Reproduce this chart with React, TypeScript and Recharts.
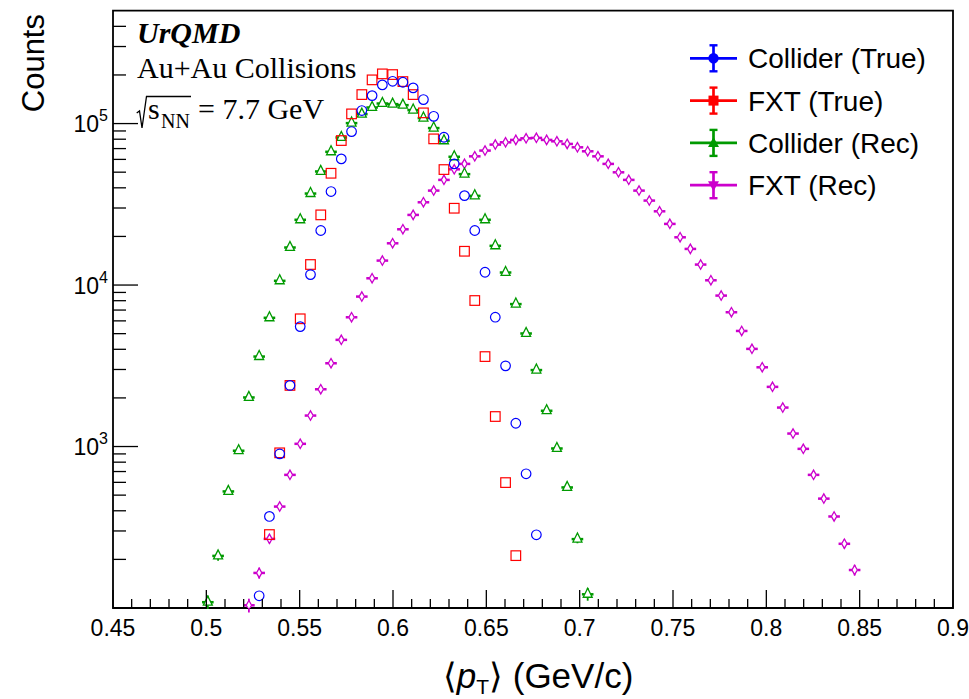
import React from "react";
import { ScatterChart, Scatter, XAxis, YAxis, ReferenceArea, ErrorBar, Legend } from "recharts";

// <pT> bin centres (GeV/c), shared by all four histograms
const binCenters = [
  0.5008, 0.5063, 0.5118, 0.5173, 0.5228, 0.5283, 0.5338, 0.5393, 0.5448, 0.5503,
  0.5558, 0.5613, 0.5668, 0.5723, 0.5778, 0.5833, 0.5888, 0.5943, 0.5998, 0.6053,
  0.6108, 0.6163, 0.6218, 0.6273, 0.6328, 0.6383, 0.6438, 0.6493, 0.6548, 0.6603,
  0.6658, 0.6713, 0.6768, 0.6823, 0.6878, 0.6933, 0.6988, 0.7043, 0.7098, 0.7153,
  0.7208, 0.7263, 0.7318, 0.7373, 0.7428, 0.7483, 0.7538, 0.7593, 0.7648, 0.7703,
  0.7758, 0.7813, 0.7868, 0.7923, 0.7978, 0.8033, 0.8088, 0.8143, 0.8198, 0.8253,
  0.8308, 0.8363, 0.8418, 0.8473,
];

// counts per series, starting at the given bin index
const colliderTrueFirstBin = 5;
const colliderTrueCounts = [
  119, 369, 901, 2390, 5530,
  11610, 21760, 37930, 60430, 89230, 120400, 149000, 173600, 182700, 180200,
  166400, 140800, 110900, 82300, 56300, 35800, 21760, 12000, 6320, 3160,
  1394, 678, 284,
];

const fxtTrueFirstBin = 6;
const fxtTrueCounts = [
  285, 914, 2390, 6180,
  13400, 27200, 49230, 78500, 114800, 151200, 186500, 203100, 201100, 182000,
  151200, 116500, 80400, 51900, 29900, 16190, 8020, 3606, 1534, 598,
  211,
];

const colliderRecFirstBin = 0;
const colliderRecCounts = [
  109, 211, 529, 945, 2020, 3620, 6290, 10660, 17140, 25450,
  37000, 50700, 67100, 82300, 101000, 114800, 126200, 133600, 132400, 130500,
  121600, 108500, 94100, 78500, 62500, 48800, 35800, 25450, 17560, 12000,
  7650, 5030, 2985, 1671, 976, 560, 268, 122,
];

const fxtRecFirstBin = 4;
const fxtRecCounts = [
  104, 165, 268, 425, 668, 1040,
  1556, 2264, 3280, 4580, 6320, 8490, 11020, 14180, 18150, 22160,
  27200, 32570, 38470, 44820, 52120, 56300, 62720, 68070, 74130, 76600,
  79250, 81100, 81560, 79250, 77700, 74850, 71330, 67400, 62720, 56300,
  49940, 44820, 38470, 33370, 28640, 23930, 19770, 16750, 13400, 10710,
  8610, 6790, 5200, 4027, 3097, 2343, 1744, 1204, 968, 668,
  476, 369, 250, 172,
];

const xMajorTicks = [0.45, 0.5, 0.55, 0.6, 0.65, 0.7, 0.75, 0.8, 0.85, 0.9];
const xMinorTicks = xMajorTicks.slice(0, -1).flatMap((m) => [1, 2, 3, 4].map((i) => +(m + i * 0.01).toFixed(2)));
const yMajorTicks = [1000, 10000, 100000];
const yMinorTicks = [
  200, 300, 400, 500, 600, 700, 800, 900,
  2000, 3000, 4000, 5000, 6000, 7000, 8000, 9000,
  20000, 30000, 40000, 50000, 60000, 70000, 80000, 90000,
  200000, 300000, 400000,
];

const BLUE = "#0000ff";
const RED = "#ff0000";
const GREEN = "#009a00";
const MAGENTA = "#cc00cc";

const legendItems = [
  { name: "Collider (True)", color: BLUE, marker: "circle" },
  { name: "FXT (True)", color: RED, marker: "square" },
  { name: "Collider (Rec)", color: GREEN, marker: "triUp" },
  { name: "FXT (Rec)", color: MAGENTA, marker: "triDown" },
];

// plot frame (px)
const PL = 113;
const PB = 608;
const SANS = "'Liberation Sans', Arial, Helvetica, sans-serif";
const SERIF = "'Liberation Serif', 'Times New Roman', serif";

const toPoints = (first: number, counts: number[]) =>
  counts.map((c, i) => ({ x: binCenters[first + i], y: c, err: Math.sqrt(c) }));

const colliderTrue = toPoints(colliderTrueFirstBin, colliderTrueCounts);
const fxtTrue = toPoints(fxtTrueFirstBin, fxtTrueCounts);
const colliderRec = toPoints(colliderRecFirstBin, colliderRecCounts);
const fxtRec = toPoints(fxtRecFirstBin, fxtRecCounts);

const OpenCircle = (p: any) => (
  <circle cx={p.cx} cy={p.cy} r={4.8} fill="none" stroke={BLUE} strokeWidth={1.2} />
);
const OpenSquare = (p: any) => (
  <rect x={p.cx - 4.8} y={p.cy - 4.8} width={9.6} height={9.6} fill="none" stroke={RED} strokeWidth={1.2} />
);
const OpenTriangle = (p: any) => {
  const { cx, cy } = p;
  return (
    <g>
      <rect x={cx - 5.8} y={cy - 1} width={3} height={2.5} fill={GREEN} />
      <rect x={cx + 2.8} y={cy - 1} width={3} height={2.5} fill={GREEN} />
      <polygon
        points={`${cx},${cy - 5.8} ${cx - 4.5},${cy + 3.2} ${cx + 4.5},${cy + 3.2}`}
        fill="#fff"
        stroke={GREEN}
        strokeWidth={1.3}
      />
    </g>
  );
};
const OpenDiamond = (p: any) => {
  const { cx, cy } = p;
  return (
    <g>
      <rect x={cx - 5.8} y={cy - 1.2} width={3.1} height={2.5} fill={MAGENTA} />
      <rect x={cx + 2.7} y={cy - 1.2} width={3.1} height={2.5} fill={MAGENTA} />
      <polygon
        points={`${cx},${cy - 4.7} ${cx + 2.7},${cy} ${cx},${cy + 4.7} ${cx - 2.7},${cy}`}
        fill="#fff"
        stroke={MAGENTA}
        strokeWidth={1.3}
      />
    </g>
  );
};

function XTick(props: any) {
  const { x, payload } = props;
  const major = xMajorTicks.includes(payload.value);
  return (
    <g>
      <line x1={x} x2={x} y1={PB} y2={PB - (major ? 18 : 9)} stroke="#000" strokeWidth={1.3} />
      {major && (
        <text x={x} y={636} textAnchor="middle" fontFamily={SANS} fontSize={23} fill="#000">
          {String(payload.value)}
        </text>
      )}
    </g>
  );
}

function YTick(props: any) {
  const { y, payload } = props;
  const major = yMajorTicks.includes(payload.value);
  return (
    <g>
      <line x1={PL} x2={PL + (major ? 25 : 13)} y1={y} y2={y} stroke="#000" strokeWidth={1.3} />
      {major && (
        <text x={108} y={y + 8.5} textAnchor="end" fontFamily={SANS} fontSize={23} fill="#000">
          10
          <tspan dy={-11} fontSize={16}>
            {Math.round(Math.log10(payload.value))}
          </tspan>
        </text>
      )}
    </g>
  );
}

function LegendBox() {
  return (
    <svg width={280} height={175} style={{ display: "block", overflow: "visible" }}>
      {legendItems.map((s, i) => {
        const cy = 24.3 + i * 42.3;
        const cx = 33.5;
        let marker;
        if (s.marker === "circle") marker = <circle cx={cx} cy={cy} r={5.2} fill={s.color} />;
        else if (s.marker === "square") marker = <rect x={cx - 5} y={cy - 5} width={10} height={10} fill={s.color} />;
        else if (s.marker === "triUp")
          marker = <polygon points={`${cx},${cy - 6} ${cx - 5.5},${cy + 4} ${cx + 5.5},${cy + 4}`} fill={s.color} />;
        else marker = <polygon points={`${cx},${cy + 6} ${cx - 5.5},${cy - 4} ${cx + 5.5},${cy - 4}`} fill={s.color} />;
        return (
          <g key={s.name}>
            <line x1={10} x2={57} y1={cy} y2={cy} stroke={s.color} strokeWidth={2.7} />
            <line x1={cx} x2={cx} y1={cy - 13} y2={cy + 13} stroke={s.color} strokeWidth={2.7} />
            <line x1={cx - 4} x2={cx + 4} y1={cy - 13} y2={cy - 13} stroke={s.color} strokeWidth={2.4} />
            <line x1={cx - 4} x2={cx + 4} y1={cy + 13} y2={cy + 13} stroke={s.color} strokeWidth={2.4} />
            {marker}
            <text x={68} y={cy + 10} fontFamily={SANS} fontSize={28} fill="#000">
              {s.name}
            </text>
          </g>
        );
      })}
    </svg>
  );
}

export default function App() {
  return (
    <div style={{ position: "absolute", left: 0, top: 0, width: 969, height: 699, background: "#fff" }}>
      <ScatterChart width={969} height={699} margin={{ top: 10.7, right: 16, bottom: 0, left: 0 }}>
        <XAxis
          type="number"
          dataKey="x"
          domain={[0.45, 0.9]}
          ticks={[...xMajorTicks, ...xMinorTicks]}
          interval={0}
          tick={<XTick />}
          tickLine={false}
          axisLine={false}
          height={91}
          allowDataOverflow
        />
        <YAxis
          type="number"
          dataKey="y"
          scale="log"
          domain={[100, 500000]}
          ticks={[...yMajorTicks, ...yMinorTicks]}
          interval={0}
          tick={<YTick />}
          tickLine={false}
          axisLine={false}
          width={113}
          allowDataOverflow
        />
        <ReferenceArea
          x1={0.45}
          x2={0.9}
          y1={100}
          y2={500000}
          fill="none"
          fillOpacity={0}
          stroke="#000"
          strokeWidth={1.8}
          ifOverflow="visible"
        />
        <Scatter name="FXT (Rec)" data={fxtRec} shape={OpenDiamond} isAnimationActive={false}>
          <ErrorBar dataKey="err" direction="y" width={0} stroke={MAGENTA} strokeWidth={1.8} />
        </Scatter>
        <Scatter name="Collider (Rec)" data={colliderRec} shape={OpenTriangle} isAnimationActive={false}>
          <ErrorBar dataKey="err" direction="y" width={0} stroke={GREEN} strokeWidth={1.8} />
        </Scatter>
        <Scatter name="FXT (True)" data={fxtTrue} shape={OpenSquare} isAnimationActive={false} />
        <Scatter name="Collider (True)" data={colliderTrue} shape={OpenCircle} isAnimationActive={false} />
        <Legend
          layout="vertical"
          align="center"
          verticalAlign="middle"
          wrapperStyle={{ left: 680, top: 34, width: 280 }}
          content={() => <LegendBox />}
        />
      </ScatterChart>
      <svg
        width={969}
        height={699}
        style={{ position: "absolute", left: 0, top: 0, pointerEvents: "none" }}
      >
        <text x={137} y={43} fontFamily={SERIF} fontSize={30} fontWeight="bold" fontStyle="italic" fill="#000">
          UrQMD
        </text>
        <text x={137} y={78} fontFamily={SERIF} fontSize={30} fill="#000">
          Au+Au Collisions
        </text>
        <path d="M136.7,113 L139.5,111 L142,128 L146.5,96.5 L191,96.5" fill="none" stroke="#000" strokeWidth={1.3} />
        <text x={148} y={119} fontFamily={SERIF} fontSize={30} fill="#000">
          s
        </text>
        <text x={161} y={128} fontFamily={SERIF} fontSize={20} fill="#000">
          NN
        </text>
        <text x={198} y={119} fontFamily={SERIF} fontSize={30} fill="#000">
          = 7.7 GeV
        </text>
        <text
          x={44}
          y={14}
          transform="rotate(-90 44 14)"
          textAnchor="end"
          fontFamily={SANS}
          fontSize={31}
          fill="#000"
        >
          Counts
        </text>
        <text x={538} y={688} textAnchor="middle" fontFamily={SANS} fontSize={35} fill="#000">
          ⟨<tspan fontStyle="italic">p</tspan>
          <tspan fontSize={21} dy={6}>
            T
          </tspan>
          <tspan dy={-6}>⟩ (GeV/c)</tspan>
        </text>
      </svg>
    </div>
  );
}
